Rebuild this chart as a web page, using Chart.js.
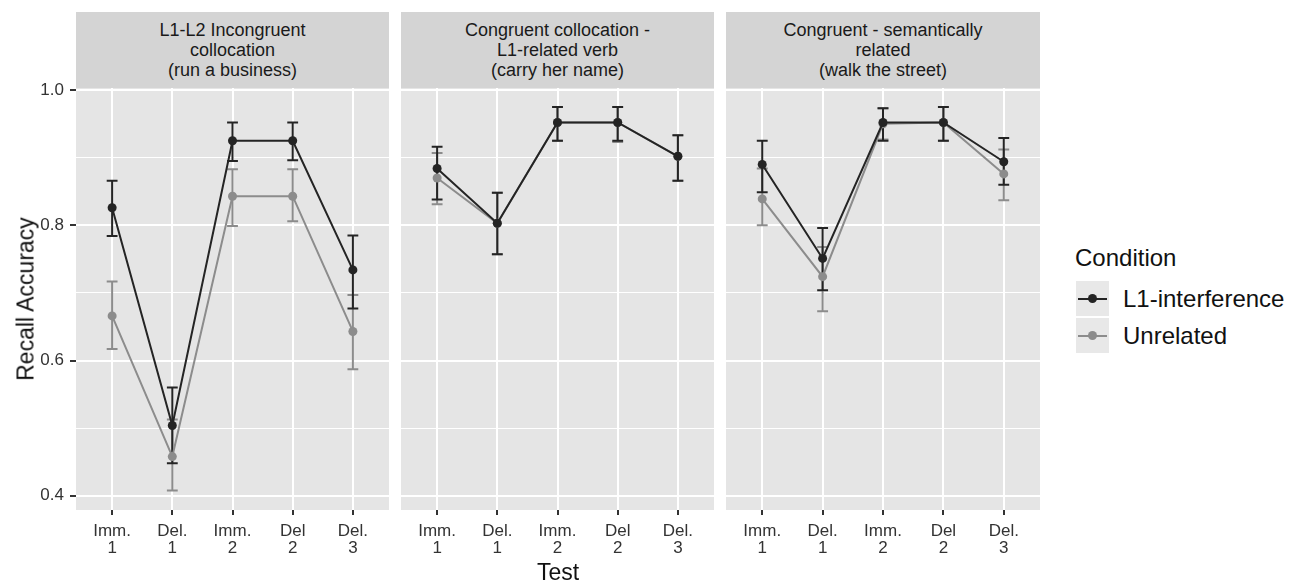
<!DOCTYPE html>
<html>
<head>
<meta charset="utf-8">
<script src="https://cdn.jsdelivr.net/npm/chart.js@4.4.1/dist/chart.umd.min.js"></script>
<style>
  body { margin: 0; background: #fff; font-family: "Liberation Sans", Arial, sans-serif; }
  #wrap { position: relative; width: 1291px; height: 583px; overflow: hidden; }
  .strip {
    position: absolute; top: 12px; height: 76px; background: #d4d4d4; color: #1a1a1a;
    font-size: 18px; line-height: 20px; display: flex; align-items: center;
    justify-content: center; text-align: center;
  }
  canvas { position: absolute; top: 68px; }
  .axis-title { position: absolute; font-size: 23px; color: #111; white-space: nowrap; }
  #ytitle { left: 26px; top: 299px; transform: translate(-50%, -50%) rotate(-90deg); }
  #xtitle { left: 558px; top: 572px; transform: translate(-50%, -50%); }
  .legend-text { position: absolute; font-size: 24px; color: #111; white-space: nowrap; transform: translateY(-50%); }
  .key { position: absolute; left: 1076px; width: 33px; height: 35px; background: #e8e8e8; }
  .key .ln { position: absolute; left: 2px; right: 2px; top: 17px; height: 2px; }
  .key .pt { position: absolute; left: 12px; top: 13px; width: 9px; height: 9px; border-radius: 50%; }
</style>
</head>
<body>
<div id="wrap">
  <div class="strip" style="left:76px;width:313px;" id="strip0"></div>
  <div class="strip" style="left:401px;width:313px;" id="strip1"></div>
  <div class="strip" style="left:726px;width:314px;" id="strip2"></div>

  <canvas id="panel0" width="399" height="490" style="left:0px;"></canvas>
  <canvas id="panel1" width="333" height="490" style="left:391px;"></canvas>
  <canvas id="panel2" width="334" height="490" style="left:716px;"></canvas>

  <div class="axis-title" id="ytitle">Recall Accuracy</div>
  <div class="axis-title" id="xtitle">Test</div>

  <div class="legend-text" style="left:1075px;top:258px;">Condition</div>
  <div class="key" style="top:281px;"><div class="ln" style="background:#242424"></div><div class="pt" style="background:#242424"></div></div>
  <div class="key" style="top:318px;"><div class="ln" style="background:#8c8c8c"></div><div class="pt" style="background:#8c8c8c"></div></div>
  <div class="legend-text" style="left:1123px;top:299px;" id="leg0"></div>
  <div class="legend-text" style="left:1123px;top:336px;" id="leg1"></div>
</div>

<script>
// categories (x) and facet titles
const testLabels = [['Imm.', '1'], ['Del.', '1'], ['Imm.', '2'], ['Del', '2'], ['Del.', '3']];
const panelTitles = [
  ['L1-L2 Incongruent', 'collocation', '(run a business)'],
  ['Congruent collocation -', 'L1-related verb', '(carry her name)'],
  ['Congruent - semantically', 'related', '(walk the street)']
];
const seriesNames = ['L1-interference', 'Unrelated'];

// y axis
const yTicks = [0.4, 0.5, 0.6, 0.7, 0.8, 0.9, 1.0];
const yLabelled = [0.4, 0.6, 0.8, 1.0];
const yMin = 0.379;
const yMax = 1.003;

// panel 1: L1-L2 incongruent collocation
const incongL1 = [0.826, 0.504, 0.925, 0.925, 0.734];
const incongL1Lo = [0.784, 0.448, 0.895, 0.896, 0.677];
const incongL1Hi = [0.866, 0.560, 0.952, 0.952, 0.785];
const incongUn = [0.666, 0.458, 0.843, 0.843, 0.643];
const incongUnLo = [0.617, 0.408, 0.799, 0.806, 0.587];
const incongUnHi = [0.717, 0.513, 0.883, 0.883, 0.697];

// panel 2: congruent collocation - L1-related verb
const congL1 = [0.884, 0.803, 0.952, 0.952, 0.902];
const congL1Lo = [0.838, 0.757, 0.925, 0.925, 0.866];
const congL1Hi = [0.916, 0.848, 0.975, 0.975, 0.933];
const congUn = [0.870, 0.803, 0.952, 0.952, 0.902];
const congUnLo = [0.831, 0.757, 0.925, 0.923, 0.866];
const congUnHi = [0.907, 0.848, 0.975, 0.975, 0.933];

// panel 3: congruent - semantically related
const semL1 = [0.890, 0.751, 0.952, 0.952, 0.894];
const semL1Lo = [0.849, 0.704, 0.925, 0.925, 0.860];
const semL1Hi = [0.925, 0.796, 0.973, 0.975, 0.929];
const semUn = [0.839, 0.724, 0.950, 0.952, 0.876];
const semUnLo = [0.800, 0.673, 0.927, 0.925, 0.837];
const semUnHi = [0.884, 0.768, 0.973, 0.975, 0.912];

const DARK = '#242424';
const LIGHT = '#8c8c8c';
const TICK_COLOR = '#333333';
const TICK_FONT = { family: '"Liberation Sans", Arial', size: 17, lineHeight: 1.05 };

panelTitles.forEach((lines, i) => {
  document.getElementById('strip' + i).innerHTML = lines.join('<br>');
});
seriesNames.forEach((name, i) => {
  document.getElementById('leg' + i).textContent = name;
});

// grey panel background
const panelBg = {
  id: 'panelBg',
  beforeDraw(chart) {
    const { ctx, chartArea: a } = chart;
    ctx.save();
    ctx.fillStyle = '#e5e5e5';
    ctx.fillRect(a.left, a.top, a.right - a.left, a.bottom - a.top);
    ctx.restore();
  }
};

// error bars drawn under the lines and points
const errorBars = {
  id: 'errorBars',
  beforeDatasetsDraw(chart) {
    const { ctx, scales: { x, y } } = chart;
    ctx.save();
    ctx.lineWidth = 2;
    chart.data.datasets.slice().reverse().forEach(ds => {
      ctx.strokeStyle = ds.borderColor;
      ds.lo.forEach((lo, i) => {
        const px = x.getPixelForValue(i);
        const hw = x.getPixelForValue(i + 0.09) - px;
        const yl = y.getPixelForValue(lo);
        const yh = y.getPixelForValue(ds.hi[i]);
        ctx.beginPath();
        ctx.moveTo(px, yl); ctx.lineTo(px, yh);
        ctx.moveTo(px - hw, yl); ctx.lineTo(px + hw, yl);
        ctx.moveTo(px - hw, yh); ctx.lineTo(px + hw, yh);
        ctx.stroke();
      });
    });
    ctx.restore();
  }
};

function series(label, values, lo, hi, color) {
  return {
    label: label,
    data: values.map((v, i) => ({ x: i, y: v })),
    lo: lo,
    hi: hi,
    borderColor: color,
    backgroundColor: color,
    borderWidth: 2,
    pointRadius: 4.5,
    pointBorderWidth: 0,
    tension: 0
  };
}

function makePanel(id, showY, l1, l1Lo, l1Hi, un, unLo, unHi) {
  new Chart(document.getElementById(id), {
    type: 'line',
    data: {
      datasets: [
        series(seriesNames[0], l1, l1Lo, l1Hi, DARK),
        series(seriesNames[1], un, unLo, unHi, LIGHT)
      ]
    },
    options: {
      responsive: false,
      animation: false,
      // generous side padding so tick-label overflow never shrinks the panel
      layout: { padding: { top: 20, right: 10, left: showY ? 0 : 10, bottom: 0 } },
      plugins: { legend: { display: false }, tooltip: { enabled: false } },
      scales: {
        x: {
          type: 'linear',
          min: -0.6,
          max: 4.6,
          afterBuildTicks: s => { s.ticks = testLabels.map((_, i) => ({ value: i })); },
          afterFit: s => { s.height = 48; },
          ticks: {
            callback: v => testLabels[v],
            font: TICK_FONT,
            color: TICK_COLOR,
            padding: 7,
            maxRotation: 0,
            autoSkip: false
          },
          grid: { color: '#ffffff', lineWidth: 2, tickColor: TICK_COLOR, tickLength: 5, tickWidth: 2 },
          border: { display: false }
        },
        y: {
          min: yMin,
          max: yMax,
          afterBuildTicks: s => { s.ticks = yTicks.map(v => ({ value: v })); },
          afterFit: s => { s.width = showY ? 76 : 0; },
          ticks: {
            display: showY,
            callback: v => yLabelled.includes(v) ? v.toFixed(1) : '',
            font: TICK_FONT,
            color: TICK_COLOR,
            padding: 6
          },
          grid: {
            color: '#ffffff',
            lineWidth: c => (c.tick && yLabelled.includes(c.tick.value)) ? 2 : 1,
            tickColor: c => (showY && c.tick && yLabelled.includes(c.tick.value)) ? TICK_COLOR : 'rgba(0,0,0,0)',
            tickLength: showY ? 6 : 0,
            tickWidth: 2
          },
          border: { display: false }
        }
      }
    },
    plugins: [panelBg, errorBars]
  });
}

makePanel('panel0', true, incongL1, incongL1Lo, incongL1Hi, incongUn, incongUnLo, incongUnHi);
makePanel('panel1', false, congL1, congL1Lo, congL1Hi, congUn, congUnLo, congUnHi);
makePanel('panel2', false, semL1, semL1Lo, semL1Hi, semUn, semUnLo, semUnHi);
</script>
</body>
</html>
